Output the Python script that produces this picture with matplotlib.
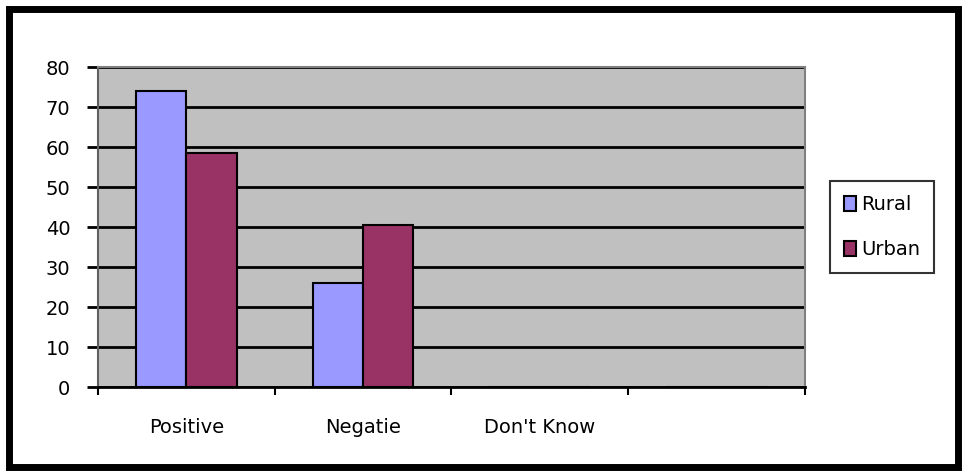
import matplotlib
matplotlib.use("Agg")
import matplotlib.pyplot as plt
from matplotlib.patches import Rectangle
import numpy as np

categories = ["Positive", "Negatie", "Don't Know", ""]
rural = [74, 26, 0, 0]
urban = [58.6, 40.5, 0, 0]
series_names = ["Rural", "Urban"]
yticks = [0, 10, 20, 30, 40, 50, 60, 70, 80]

plt.rcParams['font.family'] = ['DejaVu Sans']
FS = 14

fig = plt.figure(figsize=(9.64, 4.71), dpi=100)
# outer border
fig.patches.append(Rectangle((0.009, 0.008), 0.985, 0.972, transform=fig.transFigure,
                             fill=False, edgecolor='black', linewidth=5, zorder=10))

ax = fig.add_axes([0.1017, 0.1783, 0.7333, 0.6794])
ax.set_facecolor('#C0C0C0')

x = np.arange(len(categories))
w = 0.285
ax.bar(x - w/2, rural, width=w, color='#9999FF', edgecolor='black', linewidth=1.5,
       label=series_names[0], zorder=3)
ax.bar(x + w/2, urban, width=w, color='#993366', edgecolor='black', linewidth=1.5,
       label=series_names[1], zorder=3)

ax.set_xlim(-0.5, len(categories) - 0.5)
ax.set_ylim(0, 80)
ax.set_yticks(yticks)
ax.set_yticklabels([str(v) for v in yticks], fontsize=FS)
ax.yaxis.grid(True, color='black', linewidth=2, zorder=1)
ax.set_axisbelow(True)

# category ticks between categories
ax.set_xticks(np.arange(-0.5, len(categories), 1.0))
ax.set_xticklabels([])
ax.set_xticks(x, minor=True)
ax.set_xticklabels(categories, minor=True, fontsize=FS)
ax.tick_params(axis='x', which='minor', length=0, pad=22)
ax.tick_params(axis='x', which='major', length=6, width=1.5, color='black', direction='out')
ax.tick_params(axis='y', length=8, width=2, color='black', pad=12)

for s in ['top', 'right']:
    ax.spines[s].set_color('#808080')
    ax.spines[s].set_linewidth(1.5)
ax.spines['left'].set_color('#606060')
ax.spines['left'].set_linewidth(1.5)
ax.spines['bottom'].set_color('black')
ax.spines['bottom'].set_linewidth(2)

leg = ax.legend(loc='upper left', bbox_to_anchor=(0.861, 0.615), bbox_transform=fig.transFigure,
                frameon=True, fancybox=False, edgecolor='black', fontsize=FS,
                handlelength=0.65, handleheight=0.8, handletextpad=0.25, labelspacing=1.35,
                borderpad=0.7, borderaxespad=0)
leg.get_frame().set_linewidth(1.5)

fig.savefig("out.png", dpi=100)
